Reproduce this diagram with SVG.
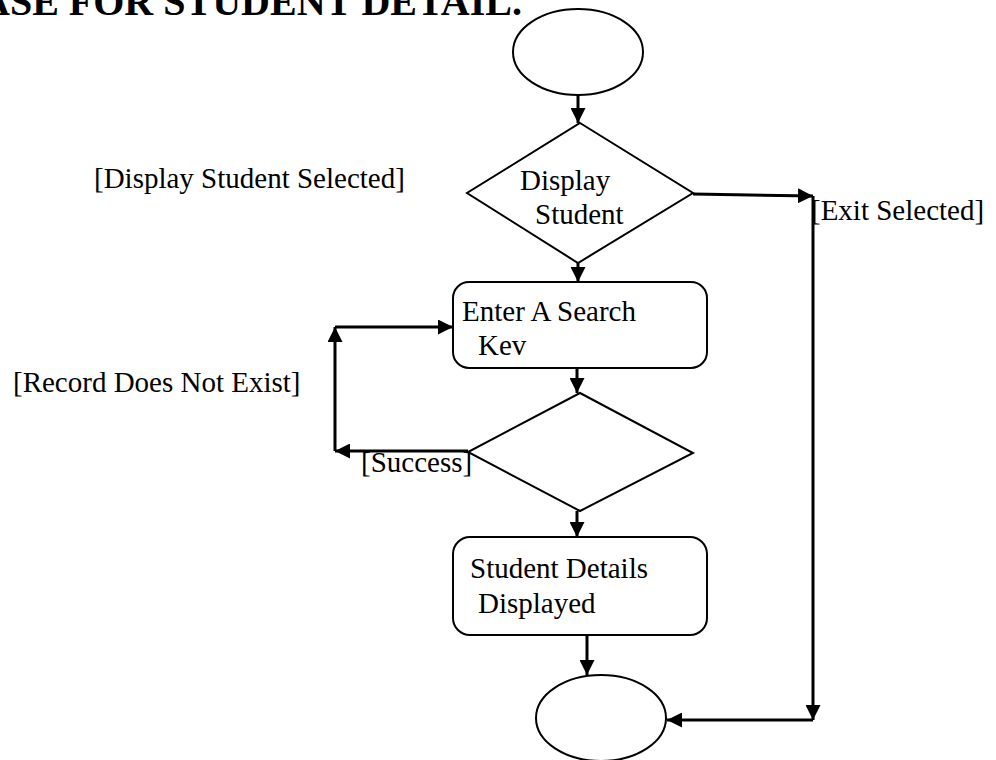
<svg xmlns="http://www.w3.org/2000/svg" width="996" height="760" viewBox="0 0 996 760">
  <style>
    .shape { fill: #ffffff; stroke: #000000; stroke-width: 2; }
    .conn { fill: none; stroke: #000000; stroke-width: 3; }
    .label { font-family: "Liberation Serif", "Times New Roman", serif; font-size: 29px; fill: #000000; }
    .title { font-family: "Liberation Serif", "Times New Roman", serif; font-size: 40px; font-weight: bold; fill: #000000; }
  </style>
  <defs>
    <marker id="arrow" viewBox="0 0 15 15" refX="15" refY="7.5" markerWidth="15" markerHeight="15" markerUnits="userSpaceOnUse" orient="auto">
      <path d="M0,0 L15,7.5 L0,15 Z" fill="#000000"/>
    </marker>
  </defs>

  <rect x="0" y="0" width="996" height="760" fill="#ffffff"/>

  <!-- heading, cut by the top edge -->
  <text class="title" x="-19" y="15">ASE FOR STUDENT DETAIL.</text>

  <!-- free-standing guard labels -->
  <text class="label" x="94" y="188">[Display Student Selected]</text>
  <text class="label" x="13" y="392">[Record Does Not Exist]</text>
  <text class="label" x="361" y="472">[Success]</text>
  <text class="label" x="811" y="220">[Exit Selected]</text>

  <g id="start">
    <ellipse class="shape" cx="578" cy="52" rx="65" ry="43"/>
  </g>

  <g id="display-student">
    <polygon class="shape" points="580,123 693,193 578,263 467,193"/>
    <text class="label" x="520" y="190">Display</text>
    <text class="label" x="535" y="224">Student</text>
  </g>

  <g id="enter-key">
    <rect class="shape" x="453" y="282" width="254" height="86" rx="16" ry="16"/>
    <text class="label" x="462" y="321">Enter A Search</text>
    <text class="label" x="478" y="355">Kev</text>
  </g>

  <g id="search-result">
    <polygon class="shape" points="580,393 693,453 580,511 468,452"/>
  </g>

  <g id="details-shown">
    <rect class="shape" x="453" y="537" width="254" height="98" rx="17" ry="17"/>
    <text class="label" x="470" y="578">Student Details</text>
    <text class="label" x="478" y="613">Displayed</text>
  </g>

  <g id="end">
    <ellipse class="shape" cx="601" cy="718" rx="65" ry="43"/>
  </g>

  <g id="connectors">
    <line class="conn" x1="578" y1="95" x2="578" y2="123" marker-end="url(#arrow)"/>
    <line class="conn" x1="578" y1="263" x2="578" y2="282" marker-end="url(#arrow)"/>
    <line class="conn" x1="577" y1="368" x2="577" y2="393" marker-end="url(#arrow)"/>
    <line class="conn" x1="577" y1="511" x2="577" y2="537" marker-end="url(#arrow)"/>
    <line class="conn" x1="587" y1="635" x2="587" y2="675" marker-end="url(#arrow)"/>
    <!-- exit branch -->
    <line class="conn" x1="693" y1="194" x2="813" y2="196" marker-end="url(#arrow)"/>
    <line class="conn" x1="813" y1="196" x2="813" y2="720" marker-end="url(#arrow)"/>
    <line class="conn" x1="813" y1="720" x2="667" y2="720" marker-end="url(#arrow)"/>
    <!-- retry loop -->
    <line class="conn" x1="468" y1="451" x2="335" y2="451" marker-end="url(#arrow)"/>
    <line class="conn" x1="335" y1="451" x2="335" y2="327" marker-end="url(#arrow)"/>
    <line class="conn" x1="335" y1="327" x2="453" y2="327" marker-end="url(#arrow)"/>
  </g>
</svg>
